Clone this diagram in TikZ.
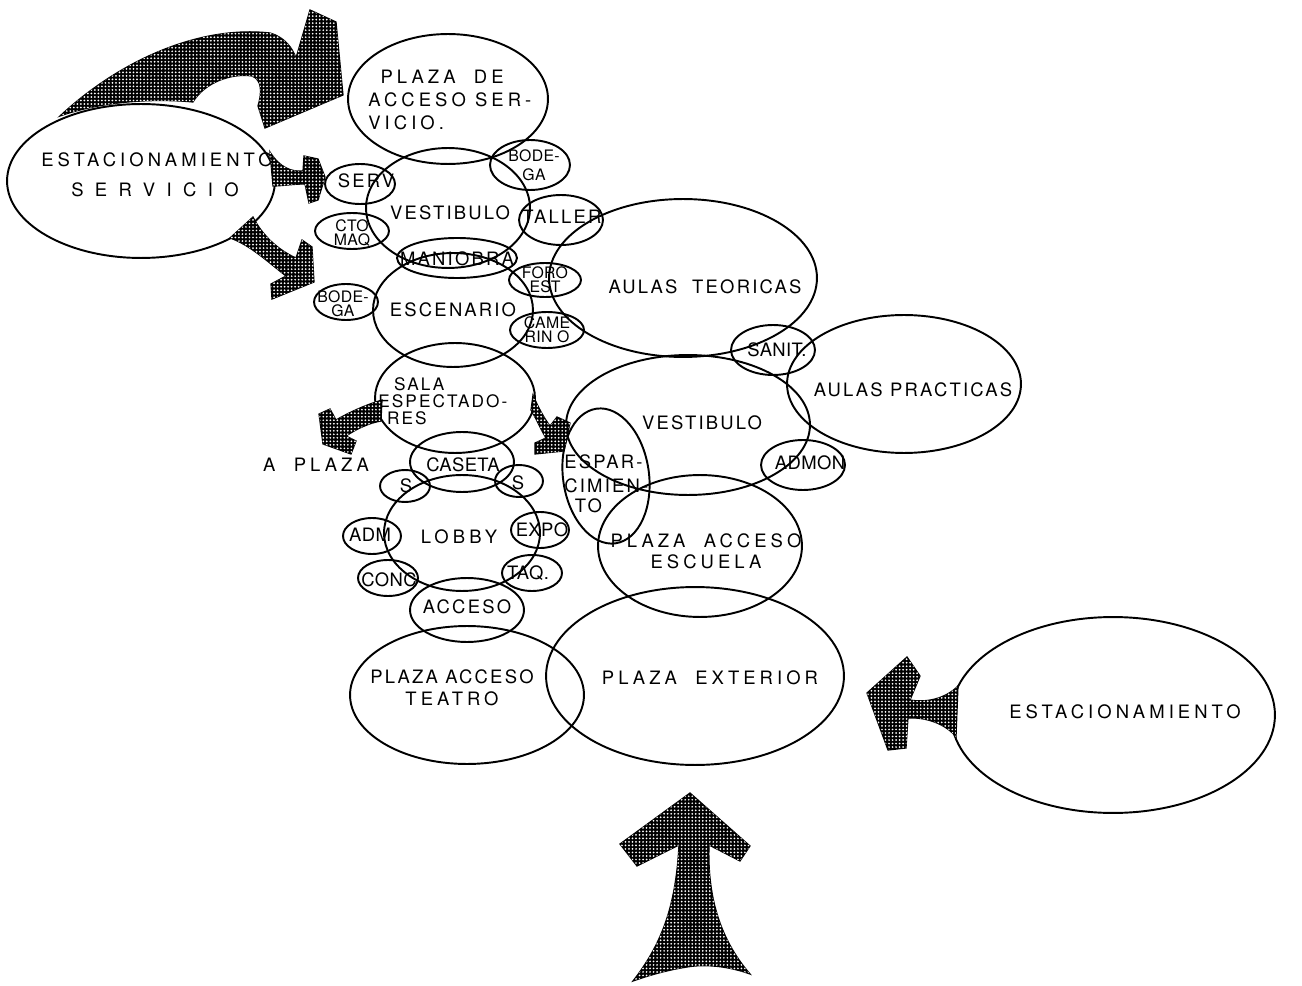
\documentclass[tikz,border=0pt]{standalone}
\usepackage{fontspec}
\usepackage{tikz}
\usetikzlibrary{shapes.geometric,patterns}
\newfontfamily\lettr[LetterSpace=22]{TeX Gyre Heros}
\newfontfamily\lettm[LetterSpace=12]{TeX Gyre Heros}
\newfontfamily\lettn[LetterSpace=2]{TeX Gyre Heros}
\newfontfamily\lettw[LetterSpace=62]{TeX Gyre Heros}
\pgfdeclarepatternformonly{wdots}{\pgfqpoint{-1pt}{-1pt}}{\pgfqpoint{1pt}{1pt}}{\pgfqpoint{2pt}{2pt}}{%
  \pgfpathcircle{\pgfqpoint{0pt}{0pt}}{0.55pt}\pgfusepath{fill}}

\begin{document}
\begin{tikzpicture}[x=0.02cm,y=-0.02cm,
  bub/.style 2 args={draw, ellipse, line width=1.1pt, inner sep=0pt,
    minimum width=#1*0.04cm, minimum height=#2*0.04cm},
  txtbig/.style={font={\lettr\fontsize{10.5}{13}\selectfont}, inner sep=0pt, align=center},
  txtmid/.style={font={\lettm\fontsize{10.5}{12.5}\selectfont}, inner sep=0pt, align=center},
  txtnar/.style={font={\lettn\fontsize{10.5}{12}\selectfont}, inner sep=0pt, align=center},
  txtsml/.style={font={\lettn\fontsize{9}{8}\selectfont}, inner sep=0pt, align=center},
  hatch/.style={draw, line width=0.7pt, fill=black,
    postaction={pattern=wdots, pattern color=white}}]

\useasboundingbox (0,0) rectangle (1302,986);

% bubbles
\node[bub={100}{65}] (pas) at (448,99) {};
\node[bub={134}{77}] (es) at (141,181) {};
\node[bub={35}{20}] (serv) at (360,184) {};
\node[bub={82}{60}] (vest1) at (448,208) {};
\node[bub={40}{25}] (bod1) at (530,165) {};
\node[bub={42}{25}] (taller) at (561,220) {};
\node[bub={37}{18}] (cto) at (352,231) {};
\node[bub={60}{20}] (man) at (457,258) {};
\node[bub={80}{57}] (esc) at (453,310) {};
\node[bub={32}{18}] (bod2) at (346,302) {};
\node[bub={36}{17}] (foro) at (545,280) {};
\node[bub={37}{18}] (cam) at (547,330) {};
\node[bub={134}{79}] (at) at (683,278) {};
\node[bub={42}{25}] (sanit) at (773,350) {};
\node[bub={117}{69}] (ap) at (904,384) {};
\node[bub={122}{70}] (vest2) at (688,425) {};
\node[bub={42}{25}] (admon) at (803,465) {};
\node[bub={43}{68}, rotate=8] (espar) at (606,476) {};
\node[bub={102}{71}] (pae) at (700,546) {};
\node[bub={80}{55}] (sala) at (455,398) {};
\node[bub={52}{30}] (caseta) at (462,462) {};
\node[bub={25}{16}] (s1) at (405,486) {};
\node[bub={24}{16}] (s2) at (519,481) {};
\node[bub={78}{58}] (lobby) at (462,533) {};
\node[bub={29}{18}] (adm) at (372,536) {};
\node[bub={29}{18}] (expo) at (540,530) {};
\node[bub={30}{18}] (conc) at (388,578) {};
\node[bub={30}{18}] (taq) at (532,573) {};
\node[bub={57}{32}] (acceso) at (467,610) {};
\node[bub={117}{69}] (pat) at (467,695) {};
\node[bub={149}{89}] (pe) at (695,676) {};
\node[bub={162}{98}] (est) at (1113,715) {};

% labels
\node[txtbig, align=left, anchor=west] (pasl) at (368,100) {\hspace*{7pt}PLAZA\ \ DE\\ACCESO SER-\\VICIO.};
\node[txtbig] (esl1) at (157,160) {ESTACIONAMIENTO};
\node[font={\lettw\fontsize{10.5}{12}\selectfont}, inner sep=0pt] (esl2) at (155,190) {SERVICIO};
\node[txtmid] (servl) at (366,181) {SERV};
\node[txtmid] (vest1l) at (450,213) {VESTIBULO};
\node[txtsml] (bod1l) at (534,165) {BODE-\\[3pt]GA};
\node[txtmid] (tallerl) at (562,217) {TALLER};
\node[txtsml] (ctol) at (352,233) {CTO\\MAQ};
\node[txtmid] (manl) at (457,259) {MANIOBRA};
\node[txtmid] (escl) at (453,310) {ESCENARIO};
\node[txtsml] (bod2l) at (343,304) {BODE-\\GA};
\node[txtsml] (forol) at (545,280) {FORO\\EST};
\node[txtsml] (caml) at (547,330) {CAME\\RIN O};
\node[txtmid] (atl) at (705,287) {AULAS\ \ TEORICAS};
\node[txtnar] (sanitl) at (777,350) {SANIT.};
\node[txtmid] (apl) at (913,390) {AULAS PRACTICAS};
\node[txtmid] (vest2l) at (702,423) {VESTIBULO};
\node[txtnar] (admonl) at (810,463) {ADMON};
\node[txtmid, align=left, anchor=west] (esparl) at (564,484) {ESPAR-\\[1pt]CIMIEN-\\[-1pt]\hspace*{6pt}TO};
\node[txtbig] (pael) at (706,551) {PLAZA\ \ ACCESO\\[-1pt]ESCUELA};
\node[font={\lettm\fontsize{9.8}{9.6}\selectfont}, inner sep=0pt, align=left, anchor=west] (salal) at (378,401) {\hspace*{9pt}SALA\\ESPECTADO-\\\hspace*{5pt}RES};
\node[txtbig] (plazal) at (316,465) {A\ \ PLAZA};
\node[txtnar] (casetal) at (463,465) {CASETA};
\node[txtnar] (s1l) at (406,486) {S};
\node[txtnar] (s2l) at (518,483) {S};
\node[txtbig] (lobbyl) at (459,537) {LOBBY};
\node[txtnar] (adml) at (370,535) {ADM};
\node[txtnar] (expol) at (542,530) {EXPO};
\node[txtnar] (concl) at (389,580) {CONC};
\node[txtnar] (taql) at (528,573) {TAQ.};
\node[txtmid] (accesol) at (467,607) {ACCESO};
\node[txtmid] (patl) at (452,688) {PLAZA ACCESO\\{\lettr TEATRO}};
\node[txtbig] (pel) at (710,678) {PLAZA\ \ EXTERIOR};
\node[txtbig] (estl) at (1125,712) {ESTACIONAMIENTO};

% hatched arrows
\path[hatch] (60,116) .. controls (120,60) and (200,25) .. (270,33)
  .. controls (284,37) and (292,47) .. (296,58) -- (310,10) -- (336,22)
  -- (343,95) -- (265,128) -- (258,106) .. controls (262,92) and (262,80) .. (252,76)
  .. controls (232,73) and (205,82) .. (193,102) .. controls (150,98) and (100,102) .. (60,116) -- cycle;
\path[hatch] (270,152) .. controls (280,168) and (292,172) .. (303,171) -- (304,156)
  -- (318,159) -- (325,177) -- (318,200) -- (309,203) -- (305,184)
  .. controls (293,184) and (282,186) .. (273,186) -- cycle;
\path[hatch] (253,217) .. controls (262,235) and (278,250) .. (296,258) -- (302,240)
  -- (312,247) -- (314,282) -- (272,299) -- (271,284) -- (286,276)
  .. controls (268,262) and (250,245) .. (230,238) -- cycle;
\path[hatch] (382,400) .. controls (365,405) and (348,413) .. (336,420) -- (330,409)
  -- (319,414) -- (323,444) -- (351,454) -- (356,441) -- (346,436)
  .. controls (358,428) and (370,423) .. (381,421) -- cycle;
\path[hatch] (533,395) .. controls (538,407) and (544,418) .. (550,426) -- (557,417)
  -- (570,423) -- (564,451) -- (535,454) -- (535,443) -- (546,438)
  .. controls (541,430) and (537,420) .. (531,410) -- cycle;
\path[hatch] (867,693) -- (907,657) -- (920,676) -- (910,700)
  .. controls (928,703) and (946,698) .. (958,686) -- (956,737)
  .. controls (946,724) and (926,717) .. (908,718) -- (906,748) -- (888,750) -- cycle;
\path[hatch] (690,793) -- (750,846) -- (740,861) -- (709,845)
  .. controls (708,880) and (712,930) .. (750,974) .. controls (728,966) and (705,964) .. (687,967)
  .. controls (668,970) and (650,975) .. (633,981) .. controls (665,940) and (676,900) .. (679,845)
  -- (637,866) -- (620,844) -- cycle;

\end{tikzpicture}
\end{document}
